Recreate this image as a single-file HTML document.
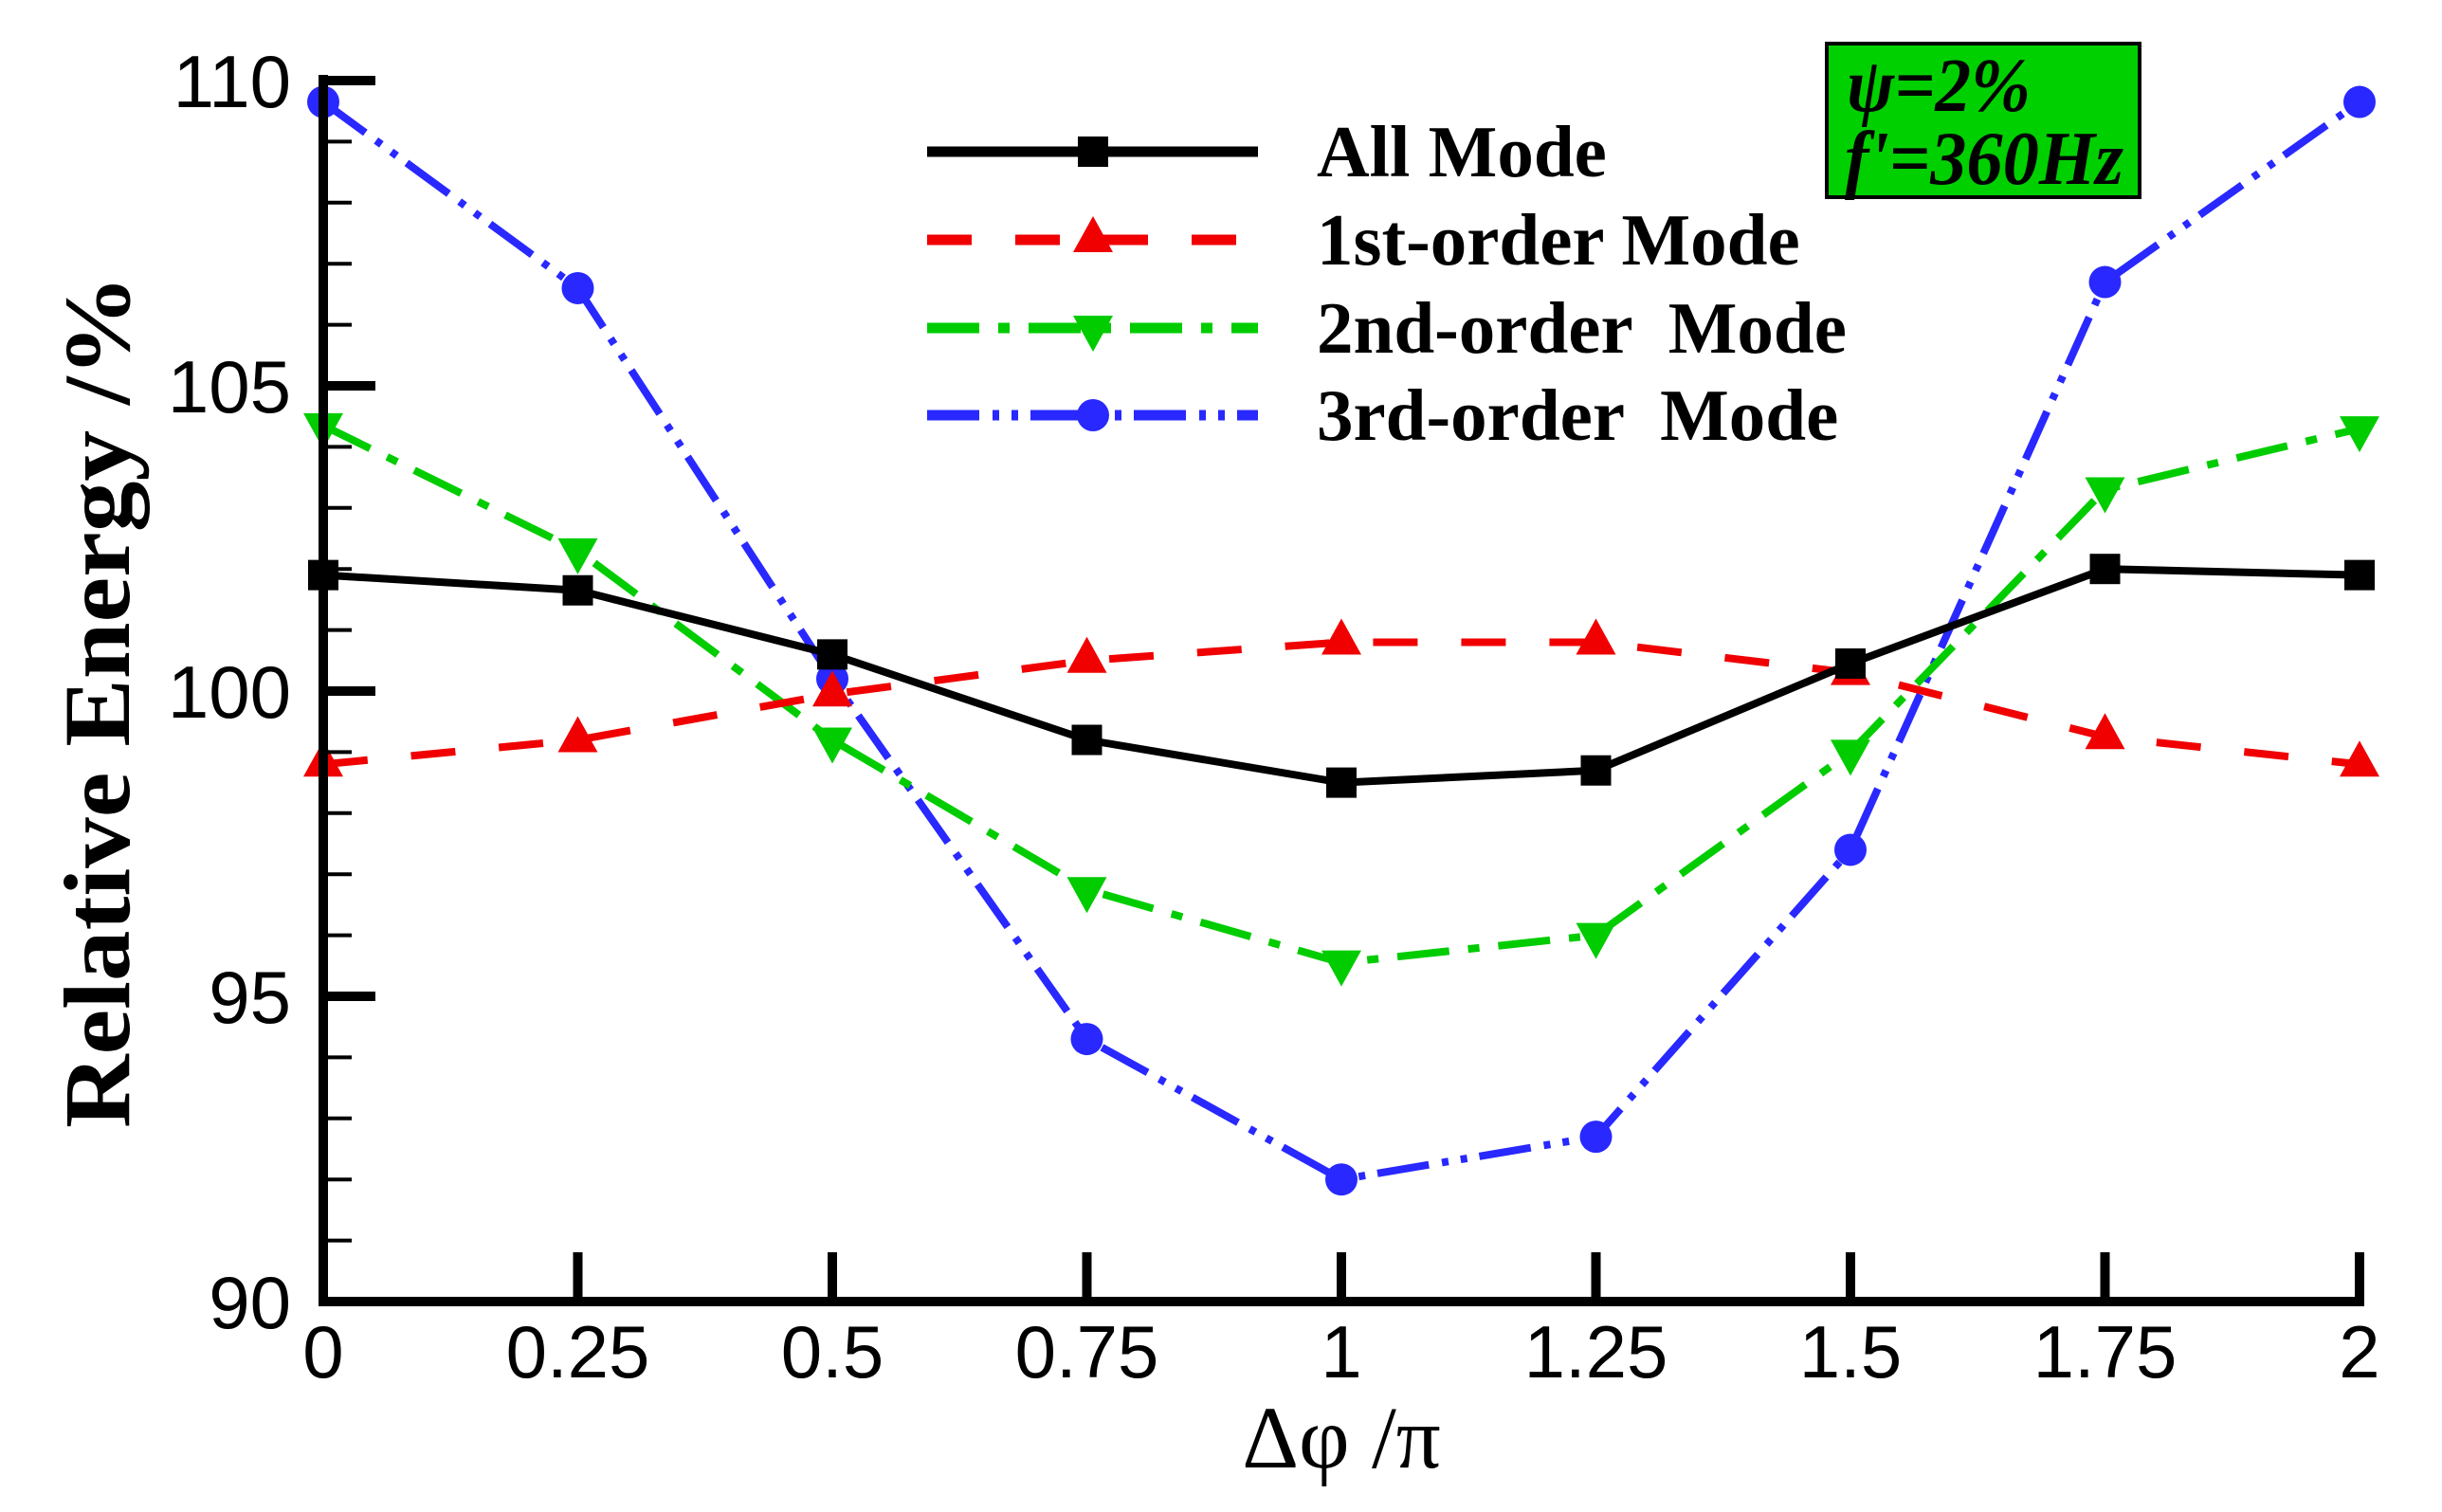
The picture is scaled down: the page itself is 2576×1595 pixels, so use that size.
<!DOCTYPE html>
<html><head><meta charset="utf-8"><style>html,body{margin:0;padding:0;background:#fff}svg{display:block}</style></head>
<body>
<svg id="chart" width="2576" height="1595" viewBox="0 0 2576 1595" xmlns="http://www.w3.org/2000/svg">
<g id="plot"></g>
<g id="axes"></g>
<g id="legend"></g>
<g>
  <rect x="1927" y="46" width="330" height="162" fill="#00d000" stroke="#000" stroke-width="4"/>
  <text x="1948" y="117" font-family="Liberation Serif, serif" font-weight="bold" font-style="italic" font-size="80" textLength="194" lengthAdjust="spacingAndGlyphs">ψ=2%</text>
  <text x="1946" y="194" font-family="Liberation Serif, serif" font-weight="bold" font-style="italic" font-size="80" textLength="294" lengthAdjust="spacingAndGlyphs">f'=360Hz</text>
</g>
<text transform="translate(136,740) rotate(-90)" text-anchor="middle" font-family="Liberation Serif, serif" font-weight="bold" font-size="100" textLength="900" lengthAdjust="spacingAndGlyphs">Relative Energy /%</text>
<text x="1415" y="1548" text-anchor="middle" font-family="Liberation Serif, serif" font-size="93">Δφ /π</text>
</svg>
<script>
const xValues = [0, 0.25, 0.5, 0.75, 1, 1.25, 1.5, 1.75, 2];
const allMode = [101.9, 101.65, 100.6, 99.2, 98.5, 98.7, 100.45, 102.0, 101.9];
const firstOrder = [98.8, 99.2, 99.95, 100.5, 100.8, 100.8, 100.3, 99.25, 98.8];
const secondOrder = [104.35, 102.3, 99.2, 96.75, 95.55, 96.0, 99.0, 103.3, 104.3];
const thirdOrder = [109.65, 106.6, 100.2, 94.3, 92.0, 92.7, 97.4, 106.7, 109.65];
const xTicks = [0, 0.25, 0.5, 0.75, 1, 1.25, 1.5, 1.75, 2];
const xTickLabels = ["0", "0.25", "0.5", "0.75", "1", "1.25", "1.5", "1.75", "2"];
const yTicks = [90, 95, 100, 105, 110];
const yTickLabels = ["90", "95", "100", "105", "110"];
const legendLabels = ["All Mode", "1st-order Mode", "2nd-order  Mode", "3rd-order  Mode"];

const NS = "http://www.w3.org/2000/svg";
const X0 = 341, X1 = 2489, Y0 = 1373, Y1 = 85;
function sx(v){ return X0 + (v - 0) / 2 * (X1 - X0); }
function sy(v){ return Y0 - (v - 90) / 20 * (Y0 - Y1); }
function mk(tag, attrs, parent){ const e = document.createElementNS(NS, tag); for (const k in attrs) e.setAttribute(k, attrs[k]); parent.appendChild(e); return e; }

const plot = document.getElementById('plot');
const axes = document.getElementById('axes');
const legend = document.getElementById('legend');

const series = [
  {key:'all-mode', data: allMode, color:'#000', dash:'', width:8, marker:'square'},
  {key:'first-order', data: firstOrder, color:'#f00000', dash:'47 46', width:8, marker:'up'},
  {key:'second-order', data: secondOrder, color:'#00cc00', dash:'55 20 12 20', width:8, marker:'down'},
  {key:'third-order', data: thirdOrder, color:'#2828ff', dash:'55 14 7 13 7 13', width:8, marker:'circle'}
];

function drawMarker(parent, type, x, y, color){
  let e;
  if (type === 'square') e = mk('rect', {x:x-16, y:y-16, width:32, height:32, fill:color}, parent);
  else if (type === 'circle') e = mk('circle', {cx:x, cy:y, r:17, fill:color}, parent);
  else if (type === 'up') e = mk('polygon', {points:`${x-21},${y+13} ${x+21},${y+13} ${x},${y-25}`, fill:color}, parent);
  else e = mk('polygon', {points:`${x-21},${y-13} ${x+21},${y-13} ${x},${y+25}`, fill:color}, parent);
  return e;
}

[3,2,1,0].forEach(i => {
  const s = series[i];
  const g = mk('g', {}, plot);
  
  
  const pts = s.data.map((v, j) => sx(xValues[j]) + ',' + sy(v)).join(' ');
  const line = mk('polyline', {points: pts, fill:'none', stroke:s.color, 'stroke-width':s.width, 'stroke-dasharray':s.dash, 'stroke-linejoin':'miter'}, g);
  
  
  s.data.forEach((v, j) => {
    const m = drawMarker(g, s.marker, sx(xValues[j]), sy(v), s.color);
    
    
  });
});

const yAxis = mk('line', {x1:X0, y1:Y1-6, x2:X0, y2:Y0+5, stroke:'#000', 'stroke-width':10}, axes);


const xAxis = mk('line', {x1:X0-5, y1:Y0, x2:X1+5, y2:Y0, stroke:'#000', 'stroke-width':10}, axes);



for (let v = 91; v < 110; v++) {
  if (v % 5 === 0) continue;
  const t = mk('line', {x1:X0, y1:sy(v), x2:X0+30, y2:sy(v), stroke:'#000', 'stroke-width':4}, axes);
  
  
}
yTicks.forEach((v, i) => {
  const t = mk('line', {x1:X0, y1:sy(v), x2:X0+55, y2:sy(v), stroke:'#000', 'stroke-width':10}, axes);
  
  
  const l = mk('text', {x:307, y:sy(v)+28, 'text-anchor':'end', 'font-family':'Liberation Sans, sans-serif', 'font-size':78}, axes);
  l.textContent = yTickLabels[i];
  
  
});
xTicks.forEach((v, i) => {
  const t = mk('line', {x1:sx(v), y1:Y0, x2:sx(v), y2:Y0-52, stroke:'#000', 'stroke-width':10}, axes);
  
  
  const l = mk('text', {x:sx(v), y:1453, 'text-anchor':'middle', 'font-family':'Liberation Sans, sans-serif', 'font-size':78}, axes);
  l.textContent = xTickLabels[i];
  
  
});

const rowsY = [160, 253, 346, 438];
series.forEach((s, i) => {
  const g = mk('g', {}, legend);
  
  
  mk('line', {x1:978, y1:rowsY[i], x2:1327, y2:rowsY[i], stroke:s.color, 'stroke-width':11, 'stroke-dasharray':s.dash}, g);
  drawMarker(g, s.marker, 1153, rowsY[i], s.color);
  const t = mk('text', {x:1389, y:rowsY[i]+26, 'font-family':'Liberation Serif, serif', 'font-weight':'bold', 'font-size':77}, g);
  t.setAttribute('style', 'white-space:pre');
  t.textContent = legendLabels[i];
});
</script>
</body></html>
